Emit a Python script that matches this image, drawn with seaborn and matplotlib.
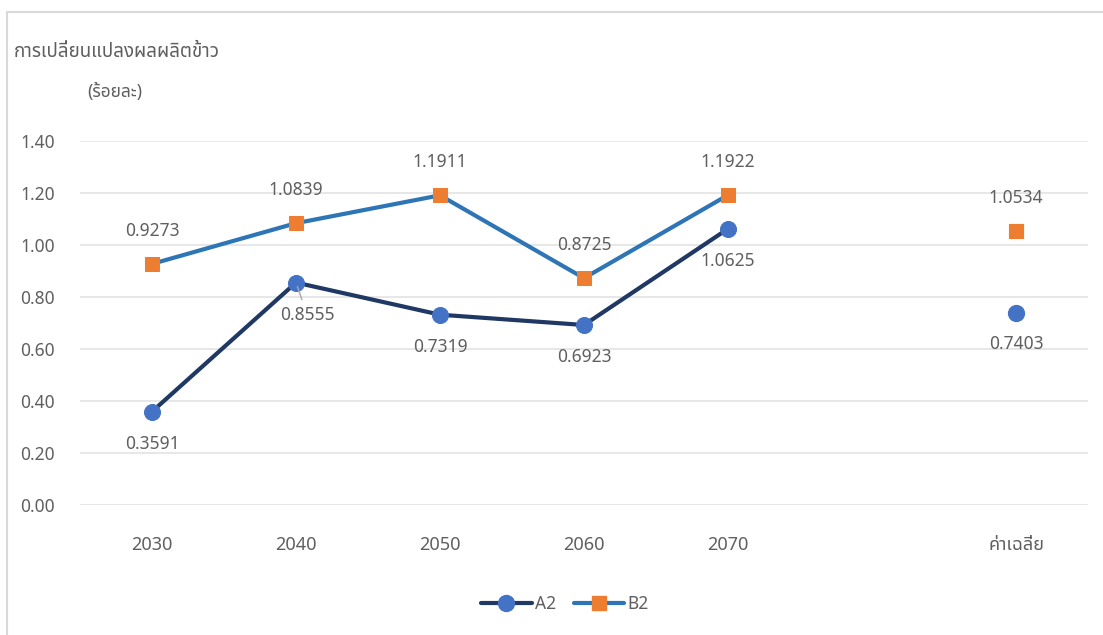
import numpy as np
import pandas as pd
import seaborn as sns
import matplotlib
matplotlib.use("Agg")
import matplotlib.pyplot as plt
from matplotlib.lines import Line2D
from matplotlib.patches import Rectangle

# data
years = ["2030", "2040", "2050", "2060", "2070"]
avg_label = "ค่าเฉลี่ย"
a2 = [0.3591, 0.8555, 0.7319, 0.6923, 1.0625]
b2 = [0.9273, 1.0839, 1.1911, 0.8725, 1.1922]
a2_avg = 0.7403
b2_avg = 1.0534
y_ticks = [0.0, 0.2, 0.4, 0.6, 0.8, 1.0, 1.2, 1.4]
title_1 = "การเปลี่ยนแปลงผลผลิตข้าว"
title_2 = "(ร้อยละ)"

sns.set_theme(style="white")
plt.rcParams["font.family"] = ["Noto Sans Thai", "DejaVu Sans"]

txt = "#5f5f5f"
a2_line, a2_mark = "#203864", "#4472C4"
b2_line, b2_mark = "#2E75B6", "#ED7D31"

# year slots, one empty slot, then the average
x_years = np.arange(len(years))
x_avg = len(years) + 1
df = pd.DataFrame({"x": x_years, "A2": a2, "B2": b2})

W, H = 1103, 635
fig = plt.figure(figsize=(W / 100, H / 100), dpi=100)
ax = fig.add_axes([80 / W, 1 - 505 / H, (1088 - 80) / W, (505 - 141) / H])

sns.lineplot(data=df, x="x", y="B2", ax=ax, color=b2_line, lw=3, marker="s",
             markersize=10.5, markerfacecolor=b2_mark, markeredgecolor=b2_mark, zorder=3)
sns.lineplot(data=df, x="x", y="A2", ax=ax, color=a2_line, lw=3, marker="o",
             markersize=11.5, markerfacecolor=a2_mark, markeredgecolor=a2_mark, zorder=3)
sns.scatterplot(x=[x_avg], y=[b2_avg], ax=ax, marker="s", s=110, color=b2_mark,
                edgecolor=b2_mark, zorder=3)
sns.scatterplot(x=[x_avg], y=[a2_avg], ax=ax, marker="o", s=132, color=a2_mark,
                edgecolor=a2_mark, zorder=3)

# data labels: B2 above, A2 below
lab = dict(textcoords="offset points", ha="center", va="center", fontsize=12.5, color=txt)
for xi, v in zip(list(x_years) + [x_avg], b2 + [b2_avg]):
    ax.annotate(f"{v:.4f}", (xi, v), xytext=(0, 24), **lab)
for xi, v in zip(list(x_years) + [x_avg], a2 + [a2_avg]):
    if xi == 1:
        ax.annotate(f"{v:.4f}", (xi, v), xytext=(8, -23),
                    arrowprops=dict(arrowstyle="-", color="#a6a6a6", lw=1,
                                    shrinkA=2, shrinkB=3), **lab)
    else:
        ax.annotate(f"{v:.4f}", (xi, v), xytext=(0, -23), **lab)

ax.set_xlim(-0.5, x_avg + 0.5)
ax.set_ylim(0, 1.4)
ax.set_xticks(list(x_years) + [x_avg])
ax.set_xticklabels(years + [avg_label])
ax.set_yticks(y_ticks)
ax.set_yticklabels([f"{t:.2f}" for t in y_ticks])
ax.tick_params(axis="y", length=0, pad=18, labelsize=12.5, labelcolor=txt)
ax.tick_params(axis="x", length=0, pad=22, labelsize=13, labelcolor=txt)
ax.set_xlabel("")
ax.set_ylabel("")
ax.yaxis.grid(True, color="#e3e3e3", lw=1.2)
ax.set_axisbelow(True)
for s in ax.spines.values():
    s.set_visible(False)

fig.text(14 / W, 1 - 52 / H, title_1, ha="left", va="center", fontsize=13.5, color=txt)
fig.text(87 / W, 1 - 92 / H, title_2, ha="left", va="center", fontsize=12.5, color=txt)

handles = [
    Line2D([], [], color=a2_line, lw=3, marker="o", markersize=11.5,
           markerfacecolor=a2_mark, markeredgecolor=a2_mark, label="A2"),
    Line2D([], [], color=b2_line, lw=3, marker="s", markersize=10.5,
           markerfacecolor=b2_mark, markeredgecolor=b2_mark, label="B2"),
]
fig.legend(handles=handles, loc="center", bbox_to_anchor=(565 / W, 1 - 604 / H), ncol=2,
           frameon=False, fontsize=12.5, labelcolor=txt, handlelength=2.9,
           handletextpad=0.2, columnspacing=1.0)

# chart frame
fig.add_artist(Rectangle((7 / W, -0.1), 1.2, 1.1 - 12 / H, transform=fig.transFigure,
                         fill=False, edgecolor="#d9d9d9", lw=1.5))

fig.savefig("out.png", dpi=100)
